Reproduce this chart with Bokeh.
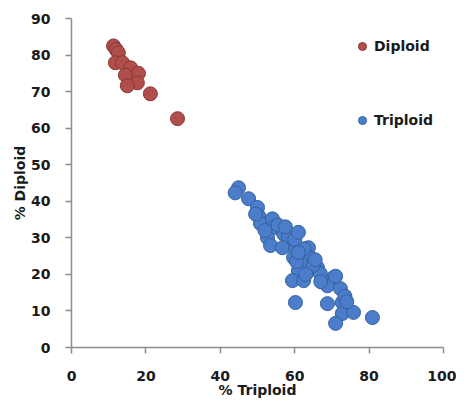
from bokeh.plotting import figure
from bokeh.models import Legend, LegendItem, FixedTicker, Range1d
from bokeh.embed import file_html
from bokeh.resources import INLINE

# Data
diploid_x = [11.3, 12.0, 12.6, 11.8, 13.7, 15.9, 18.0, 17.7, 14.5, 15.0, 21.2, 28.5]
diploid_y = [82.5, 81.5, 80.6, 77.9, 77.9, 76.5, 75.0, 72.4, 74.5, 71.6, 69.4, 62.6]

triploid_x = [44.9, 44.0, 47.6, 50.0, 50.3, 50.8, 54.0, 54.3, 52.7, 53.5, 57.0, 58.3,
              56.7, 60.2, 59.7, 63.7, 64.2, 61.6, 61.0, 66.1, 59.4, 62.4, 66.9, 70.4,
              68.8, 72.3, 60.2, 68.8, 72.8, 72.8, 75.8, 80.9, 71.0, 55.5, 57.5, 60.0,
              61.0, 62.5, 60.5, 65.0, 63.0, 67.0, 71.0, 73.5, 74.0, 52.0, 49.5, 61.0, 65.5]
triploid_y = [43.7, 42.3, 40.7, 38.3, 36.0, 33.9, 35.2, 32.8, 30.0, 27.9, 31.1, 30.0,
              27.3, 27.0, 24.6, 27.3, 24.6, 23.0, 21.0, 21.9, 18.3, 18.3, 20.2, 19.1,
              16.9, 16.1, 12.3, 12.0, 12.3, 9.3, 9.6, 8.2, 6.6, 33.5, 33.0, 29.5,
              31.5, 27.0, 23.5, 22.5, 20.0, 18.0, 19.5, 14.0, 12.5, 32.0, 36.5, 26.0, 24.0]

x_ticks = [0, 20, 40, 60, 80, 100]
y_ticks = [0, 10, 20, 30, 40, 50, 60, 70, 80, 90]
series_names = ["Diploid", "Triploid"]

FONT = "DejaVu Sans"

p = figure(frame_width=372, frame_height=329,
           min_border_left=71, min_border_right=13, min_border_top=18, min_border_bottom=45,
           x_range=Range1d(0, 100), y_range=Range1d(0, 90),
           output_backend="svg", toolbar_location=None)
p.outline_line_color = None
p.grid.visible = False
p.background_fill_color = "white"
p.border_fill_color = "white"

r1 = p.scatter(diploid_x, diploid_y, size=14, fill_color="#B04E4C", line_color="#8A3634",
               line_width=1)
r2 = p.scatter(triploid_x, triploid_y, size=14, fill_color="#4B7DCA", line_color="#33609F",
               line_width=1)

for ax in (p.xaxis[0], p.yaxis[0]):
    ax.axis_line_color = "#8C8C8C"
    ax.axis_line_width = 1.5
    ax.major_tick_line_color = "#8C8C8C"
    ax.major_tick_line_width = 1.5
    ax.major_tick_out = 6
    ax.major_tick_in = 0
    ax.minor_tick_line_color = None
    ax.major_label_text_font = FONT
    ax.major_label_text_font_style = "bold"
    ax.major_label_text_font_size = "14px"
    ax.major_label_text_color = "#1a1a1a"
    ax.axis_label_text_font = FONT
    ax.axis_label_text_font_style = "bold"
    ax.axis_label_text_font_size = "14px"
    ax.axis_label_text_color = "#1a1a1a"

p.xaxis.ticker = FixedTicker(ticks=x_ticks)
p.yaxis.ticker = FixedTicker(ticks=y_ticks)
p.xaxis.axis_label = "% Triploid"
p.yaxis.axis_label = "% Diploid"
p.xaxis.major_label_standoff = 17
p.xaxis.axis_label_standoff = -2
p.yaxis.major_label_standoff = 15
p.yaxis.axis_label_standoff = 0

legend = Legend(items=[LegendItem(label=series_names[0], renderers=[r1]),
                       LegendItem(label=series_names[1], renderers=[r2])],
                location=(281, 216), padding=0, spacing=52,
                glyph_width=20, glyph_height=22, label_height=20, label_standoff=2,
                border_line_color=None, background_fill_alpha=0,
                label_text_font=FONT, label_text_font_style="bold",
                label_text_font_size="14px", label_text_color="#1a1a1a")
p.add_layout(legend)

open("out.html", "w").write(file_html(p, INLINE))
